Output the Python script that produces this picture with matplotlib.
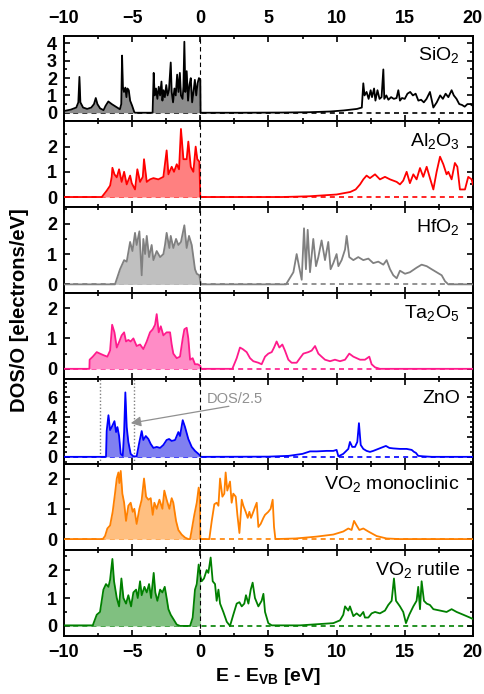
import numpy as np
import matplotlib
matplotlib.use('Agg')
import matplotlib.pyplot as plt
from matplotlib.ticker import MultipleLocator, FixedLocator

plt.rcParams['font.family'] = ['Liberation Sans', 'DejaVu Sans']
plt.rcParams['mathtext.default'] = 'regular'

# ---- read-off DOS data (E - E_VB [eV], DOS/O [electrons/eV]) ----
E_sio2 = [-10.0, -9.5, -9.1, -8.95, -8.87, -8.8, -8.6, -8.3, -8.0, -7.8, -7.67, -7.55, -7.35, -7.1,
          -6.95, -6.75, -6.5, -6.2, -5.9, -5.8, -5.74, -5.68, -5.6, -5.5, -5.42, -5.35, -5.25, -5.15,
          -5.0, -4.85, -4.79, -3.5, -3.42, -3.35, -3.25, -3.15, -3.05, -2.95, -2.85, -2.78, -2.7, -2.6,
          -2.5, -2.4, -2.3, -2.17, -2.1, -2.0, -1.9, -1.8, -1.7, -1.6, -1.5, -1.42, -1.3, -1.24, -1.17,
          -1.1, -1.0, -0.9, -0.8, -0.7, -0.6, -0.5, -0.4, -0.3, -0.2, -0.1, 0.0, 0.02,
          3.0, 6.0, 8.0, 9.5, 10.5, 11.5, 11.85, 11.96, 12.05, 12.2, 12.35, 12.5, 12.6, 12.75, 12.85,
          13.0, 13.15, 13.3, 13.43, 13.5, 13.65, 13.8, 14.0, 14.2, 14.4, 14.53, 14.65, 14.8, 15.0, 15.2,
          15.4, 15.6, 15.8, 16.0, 16.2, 16.4, 16.6, 16.85, 17.1, 17.35, 17.6, 17.8, 18.0, 18.2, 18.44,
          18.6, 18.8, 19.0, 19.2, 19.4, 19.6, 19.8, 20.0]
D_sio2 = [0.1, 0.18, 0.3, 0.6, 2.07, 0.6, 0.3, 0.22, 0.3, 0.5, 0.85, 0.5, 0.25, 0.15,
          0.4, 0.65, 0.5, 0.35, 0.2, 0.5, 3.3, 1.5, 1.2, 1.45, 0.9, 1.4, 1.3, 0.7,
          0.4, 0.05, 0.0, 0.0, 2.3, 1.0, 1.4, 0.8, 1.5, 1.0, 1.8, 0.7, 1.3, 0.9,
          1.6, 1.0, 1.3, 2.9, 1.2, 0.6, 1.4, 1.0, 2.2, 1.2, 2.3, 1.0, 0.8, 1.5, 4.1,
          1.2, 2.4, 0.7, 1.6, 2.0, 0.6, 1.2, 1.9, 1.0, 1.7, 2.0, 1.9, 0.0,
          0.0, 0.01, 0.03, 0.07, 0.13, 0.22, 0.3, 1.7, 1.0, 1.2, 0.8, 1.3, 0.9, 1.4, 0.7,
          1.3, 0.8, 0.9, 2.5, 0.8, 1.0, 0.75, 0.9, 0.8, 0.85, 1.3, 0.7, 0.85, 0.8, 1.1,
          1.2, 1.0, 1.1, 0.7, 0.75, 0.6, 0.8, 1.2, 0.3, 0.6, 1.0, 0.8, 1.1, 0.9, 1.3,
          1.0, 0.8, 0.5, 0.45, 0.35, 0.5, 0.5, 0.4]

E_al2o3 = [-10.0, -7.23, -6.87, -6.62, -6.5, -6.45, -6.3, -6.13, -5.96, -5.77, -5.59, -5.4, -5.15,
           -5.03, -4.79, -4.62, -4.42, -4.22, -4.13, -3.93, -3.69, -3.44, -3.08, -2.71, -2.47, -2.34,
           -2.1, -1.93, -1.73, -1.56, -1.42, -1.24, -1.0, -0.88, -0.7, -0.51, -0.34, -0.22, -0.07, 0.0,
           6.0, 8.0, 10.0, 11.0, 11.4, 11.72, 11.96, 12.2, 12.45, 12.82, 13.18, 13.55, 13.92, 14.41,
           14.65, 14.89, 15.14, 15.38, 15.63, 15.87, 16.12, 16.36, 16.61, 16.85, 17.1, 17.34, 17.59,
           17.83, 18.07, 18.2, 18.44, 18.68, 18.86, 19.05, 19.42, 19.66, 19.91, 20.0]
D_al2o3 = [0.0, 0.0, 0.25, 0.45, 0.8, 1.16, 0.9, 0.78, 1.1, 0.6, 1.0, 0.5, 0.85,
           0.55, 0.3, 1.1, 0.6, 0.8, 1.5, 0.6, 0.7, 0.75, 0.7, 0.8, 1.85, 0.9,
           1.2, 1.0, 1.3, 1.1, 2.7, 1.5, 1.5, 2.2, 1.2, 1.0, 2.0, 1.5, 1.4, 0.0,
           0.0, 0.03, 0.1, 0.2, 0.3, 0.5, 0.7, 0.85, 0.75, 0.9, 0.7, 0.8, 0.7, 0.6,
           0.5, 0.65, 1.0, 0.55, 0.9, 0.7, 1.15, 0.8, 1.2, 0.75, 0.3, 1.0, 1.6,
           1.3, 0.9, 1.0, 0.7, 1.35, 1.2, 0.3, 0.3, 0.8, 0.7, 0.5]

E_hfo2 = [-10.0, -6.26, -5.89, -5.59, -5.4, -5.15, -4.98, -4.79, -4.67, -4.47, -4.3, -4.18, -4.05,
          -3.93, -3.76, -3.57, -3.44, -3.2, -2.95, -2.71, -2.59, -2.47, -2.27, -2.17, -1.98, -1.78,
          -1.61, -1.42, -1.17, -1.0, -0.83, -0.63, -0.39, -0.26, -0.07, 0.0,
          0.05, 6.29, 6.83, 7.07, 7.24, 7.44, 7.61, 7.75, 7.88, 8.05, 8.29, 8.49, 8.66, 8.9, 9.15,
          9.39, 9.56, 9.76, 10.0, 10.13, 10.37, 10.62, 10.74, 10.93, 11.23, 11.59, 11.96, 12.33,
          12.69, 13.06, 13.43, 13.67, 13.92, 14.16, 14.41, 14.65, 15.02, 15.38, 15.87, 16.24,
          16.61, 16.97, 17.34, 17.71, 17.96, 18.2, 20.0]
D_hfo2 = [0.0, 0.0, 0.5, 0.8, 0.75, 1.4, 1.1, 1.7, 1.3, 1.75, 0.3, 1.5, 1.0,
          1.6, 0.9, 1.3, 0.8, 1.1, 0.9, 1.0, 1.3, 1.7, 1.2, 1.6, 1.2, 1.5,
          1.3, 1.4, 1.95, 1.2, 1.6, 1.3, 0.5, 0.35, 0.3, 0.1,
          0.0, 0.0, 0.4, 1.0, 0.6, 0.15, 1.85, 0.5, 1.8, 0.4, 1.5, 0.6, 0.9, 1.45, 0.8,
          1.4, 0.5, 0.7, 1.0, 0.6, 0.8, 1.15, 1.6, 0.9, 0.8, 0.9, 0.8, 0.85,
          0.7, 0.75, 0.65, 0.8, 0.5, 0.3, 0.2, 0.45, 0.35, 0.4, 0.55, 0.65,
          0.6, 0.5, 0.4, 0.3, 0.1, 0.0, 0.0]

E_ta2o5 = [-10.0, -8.14, -8.12, -7.89, -7.6, -7.36, -7.11, -6.82, -6.62, -6.47, -6.3, -6.13, -5.94,
           -5.77, -5.59, -5.45, -5.28, -5.11, -4.91, -4.67, -4.42, -4.18, -3.93, -3.69, -3.49, -3.32,
           -3.2, -3.05, -2.9, -2.71, -2.47, -2.22, -2.1, -1.98, -1.73, -1.49, -1.29, -1.17, -1.0, -0.88,
           -0.75, -0.56, -0.39, -0.19, 0.0,
           0.05, 2.35, 2.67, 2.91, 3.11, 3.4, 3.65, 3.89, 4.26, 4.5, 4.75, 4.99, 5.24, 5.41, 5.6,
           5.8, 6.02, 6.21, 6.46, 6.7, 7.07, 7.31, 7.56, 7.93, 8.17, 8.42, 8.66, 8.9, 9.15, 9.52,
           9.88, 10.25, 10.62, 10.93, 11.23, 11.72, 12.08, 12.4, 12.57, 12.82, 13.18, 20.0]
D_ta2o5 = [0.0, 0.0, 0.3, 0.4, 0.55, 0.5, 0.45, 0.4, 0.6, 1.45, 1.2, 0.7, 0.9,
           1.1, 1.2, 0.9, 0.95, 0.9, 1.0, 0.75, 0.8, 0.65, 0.9, 1.2, 1.3, 1.45,
           1.8, 1.2, 1.4, 1.1, 1.2, 1.2, 0.8, 0.5, 0.35, 0.4, 1.0, 1.3, 1.35, 1.0,
           0.3, 0.35, 0.15, 0.15, 0.1,
           0.0, 0.0, 0.35, 0.7, 0.65, 0.55, 0.35, 0.25, 0.2, 0.15, 0.4, 0.5, 0.55, 0.7, 0.9,
           0.7, 0.8, 0.6, 0.3, 0.2, 0.2, 0.35, 0.5, 0.55, 0.6, 0.75, 0.5, 0.4, 0.3, 0.25,
           0.3, 0.25, 0.3, 0.5, 0.4, 0.3, 0.3, 0.4, 0.15, 0.05, 0.0, 0.0]

# ZnO: values between the dotted lines are shown as DOS/2.5
E_zno = [-10.0, -6.92, -6.87, -6.74, -6.62, -6.5, -6.3, -6.18, -6.08, -5.96, -5.84, -5.69, -5.59,
         -5.5, -5.4, -5.28, -5.11, -4.91, -4.67, -4.47, -4.3, -4.18, -4.0, -3.81, -3.64, -3.44, -3.2,
         -2.95, -2.71, -2.47, -2.29, -2.1, -1.85, -1.61, -1.49, -1.29, -1.12, -0.88, -0.63, -0.39,
         -0.14, 0.0,
         0.05, 5.0, 6.5, 7.5, 8.05, 8.54, 9.27, 9.76, 10.0, 10.13, 10.49, 10.86, 10.98, 11.15,
         11.35, 11.52, 11.64, 11.77, 11.96, 12.2, 12.45, 12.69, 13.06, 13.43, 13.62, 13.87, 14.16,
         14.65, 15.14, 15.51, 15.68, 15.82, 15.99, 16.36, 17.0, 20.0]
D_zno = [0.0, 0.0, 2.6, 4.2, 2.7, 3.0, 3.6, 2.5, 3.0, 2.1, 0.3, 0.1, 2.5,
         6.5, 3.0, 1.5, 0.3, 0.05, 0.05, 1.5, 2.6, 1.7, 2.1, 1.8, 1.3, 0.9, 1.0,
         0.9, 1.2, 1.7, 1.8, 1.6, 1.7, 2.5, 2.1, 3.7, 3.0, 1.8, 1.0, 0.6,
         0.3, 0.1,
         0.0, 0.02, 0.1, 0.3, 0.55, 0.55, 0.6, 0.6, 0.7, 0.05, 0.3, 0.8, 1.5, 1.0,
         1.0, 1.5, 3.4, 1.2, 0.8, 0.6, 0.5, 0.6, 0.8, 1.0, 1.1, 0.9, 0.85,
         0.8, 0.8, 0.7, 0.5, 0.4, 0.1, 0.05, 0.0, 0.0]
zno_scaled_range = [-7.36, -4.84]

E_vo2m = [-10.0, -7.16, -6.99, -6.82, -6.62, -6.43, -6.26, -6.13, -6.01, -5.94, -5.84, -5.72, -5.59,
          -5.45, -5.28, -5.11, -4.96, -4.84, -4.67, -4.47, -4.3, -4.13, -3.98, -3.81, -3.64, -3.49,
          -3.37, -3.2, -3.0, -2.78, -2.64, -2.47, -2.27, -2.1, -1.98, -1.78, -1.61, -1.37, -1.12,
          -0.88, -0.75, -0.63, -0.44, -0.26, -0.12, -0.04, 0.0,
          0.66, 0.84, 1.03, 1.2, 1.33, 1.45, 1.62, 1.76, 1.86, 1.98, 2.18, 2.3, 2.42, 2.6, 2.72,
          2.87, 3.04, 3.16, 3.33, 3.48, 3.6, 3.72, 3.89, 4.01, 4.14, 4.26, 4.43, 4.63, 4.75, 4.99,
          5.16, 5.31, 5.41, 5.51, 7.0, 8.5, 9.76, 10.49, 10.86, 11.1, 11.28, 11.47, 11.67, 11.96,
          12.33, 12.94, 13.67, 14.65, 20.0]
D_vo2m = [0.0, 0.0, 0.1, 0.35, 0.45, 0.9, 1.5, 2.0, 2.2, 1.85, 2.25, 1.5, 1.2,
          0.6, 1.1, 1.2, 0.9, 1.0, 0.5, 1.0, 1.3, 2.0, 1.4, 1.3, 1.35, 0.8,
          1.2, 1.0, 1.3, 1.0, 1.6, 1.3, 1.0, 1.35, 1.2, 0.6, 0.3, 0.15, 0.05,
          0.0, 0.0, 0.3, 0.8, 1.2, 1.7, 1.5, 0.0,
          0.0, 0.6, 1.15, 1.2, 1.1, 2.0, 1.4, 1.5, 2.2, 1.6, 1.9, 1.2, 1.5, 1.4, 0.8,
          0.2, 1.3, 1.1, 0.9, 0.7, 0.9, 0.7, 0.9, 1.05, 1.2, 0.4, 0.5, 0.7, 0.8, 0.9,
          1.0, 1.3, 0.4, 0.0, 0.02, 0.08, 0.15, 0.25, 0.35, 0.3, 0.6, 0.45, 0.3, 0.35,
          0.25, 0.1, 0.02, 0.0, 0.0]

E_vo2r = [-10.0, -7.89, -7.6, -7.36, -7.11, -6.92, -6.74, -6.62, -6.45, -6.33, -6.13, -5.96, -5.79,
          -5.64, -5.45, -5.28, -5.08, -4.91, -4.71, -4.59, -4.42, -4.3, -4.1, -3.93, -3.76, -3.61,
          -3.42, -3.3, -3.15, -2.95, -2.78, -2.61, -2.47, -2.34, -2.17, -1.98, -1.73, -1.49, -0.75,
          -0.56, -0.39, -0.26, -0.12, 0.0,
          0.1, 0.27, 0.47, 0.59, 0.76, 0.91, 1.08, 1.2, 1.33, 1.45, 1.69, 1.94, 2.18, 2.42, 2.67,
          2.87, 3.04, 3.23, 3.35, 3.53, 3.7, 3.84, 4.01, 4.26, 4.5, 4.63, 4.75, 4.99, 5.24, 7.31,
          8.54, 9.76, 10.25, 10.49, 10.62, 10.86, 10.98, 11.23, 11.47, 11.72, 11.96, 12.08, 12.33,
          12.57, 12.82, 13.18, 13.55, 13.79, 14.04, 14.21, 14.36, 14.65, 14.89, 15.09, 15.33, 15.63,
          15.87, 15.99, 16.12, 16.24, 16.41, 16.61, 16.85, 17.1, 17.59, 18.07, 18.44, 18.81, 19.3,
          19.78, 20.0]
D_vo2r = [0.02, 0.02, 0.4, 0.5, 1.3, 1.5, 1.4, 1.65, 2.4, 1.6, 1.0, 0.7, 1.7,
          1.0, 0.8, 1.1, 0.7, 1.2, 1.3, 1.0, 1.6, 1.1, 1.4, 1.2, 1.5, 1.0,
          1.9, 1.2, 0.9, 1.3, 1.2, 1.4, 1.0, 0.6, 0.4, 0.25, 0.05, 0.0, 0.0,
          0.3, 1.3, 1.5, 2.2, 1.8,
          1.6, 1.7, 2.0, 1.9, 2.45, 1.6, 1.5, 0.9, 1.3, 0.8, 0.5, 0.15, 0.0, 0.4, 0.8,
          0.85, 0.7, 0.8, 1.1, 0.8, 1.3, 1.55, 1.0, 0.7, 0.9, 1.15, 0.5, 0.1, 0.02, 0.02,
          0.06, 0.1, 0.2, 0.4, 0.7, 0.55, 0.7, 0.35, 0.45, 0.35, 0.5, 0.3, 0.3,
          0.45, 0.5, 0.45, 0.55, 0.75, 0.9, 1.7, 0.9, 0.7, 0.5, 0.1, 0.4, 0.7,
          0.9, 1.4, 0.6, 1.6, 0.9, 0.8, 0.75, 0.6, 0.55, 0.5, 0.6, 0.5, 0.4,
          0.3, 0.25]

yticks_small = [0, 1, 2]
panels = [
    ('SiO$_2$', E_sio2, D_sio2, 'black', '#8c8c8c', (-0.5, 4.45), [0, 1, 2, 3, 4], 0.5),
    ('Al$_2$O$_3$', E_al2o3, D_al2o3, '#ff0000', '#ff8080', (-0.4, 3.0), yticks_small, 0.5),
    ('HfO$_2$', E_hfo2, D_hfo2, '#808080', '#c0c0c0', (-0.28, 2.55), yticks_small, 0.5),
    ('Ta$_2$O$_5$', E_ta2o5, D_ta2o5, '#ff1a8c', '#ff8cc6', (-0.32, 2.5), yticks_small, 0.5),
    ('ZnO', E_zno, D_zno, '#0000ff', '#8080f0', (-0.75, 7.9), [0, 2, 4, 6], 0.5),
    ('VO$_2$ monoclinic', E_vo2m, D_vo2m, '#ff8000', '#ffbf80', (-0.36, 2.47), yticks_small, 0.5),
    ('VO$_2$ rutile', E_vo2r, D_vo2r, '#008000', '#80c080', (-0.35, 2.72), yticks_small, 0.5),
]

fig, axes = plt.subplots(7, 1, sharex=True, figsize=(4.85, 6.94), dpi=100)
fig.subplots_adjust(left=0.132, right=0.975, bottom=0.084, top=0.9486, hspace=0)

for ax, (name, E, D, lc, fc, ylim, yt, ymin) in zip(axes, panels):
    E = np.array(E)
    D = np.array(D)
    ax.axhline(0, color=lc, lw=1.2, ls=(0, (3, 2.5)), zorder=1)
    ax.axvline(0, color='black', lw=0.8, ls=(0, (4, 3)), zorder=4)
    ax.fill_between(E, 0, D, where=E <= 0, color=fc, lw=0, zorder=2)
    ax.plot(E, D, color=lc, lw=1.3, zorder=3)
    ax.set_xlim(-10, 20)
    ax.set_ylim(*ylim)
    ax.yaxis.set_major_locator(FixedLocator(yt))
    ax.yaxis.set_minor_locator(MultipleLocator(ymin))
    ax.xaxis.set_major_locator(MultipleLocator(5))
    ax.xaxis.set_minor_locator(MultipleLocator(2.5))
    ax.tick_params(which='both', direction='in', top=True, right=True, width=1.2,
                   labelsize=13, labelbottom=False)
    ax.tick_params(axis='y', pad=5)
    ax.tick_params(axis='x', pad=6)
    ax.tick_params(which='major', length=4.5)
    ax.tick_params(which='minor', length=2.5)
    for lab in ax.get_yticklabels():
        lab.set_fontweight('bold')
    for s in ax.spines.values():
        s.set_linewidth(1.4)
    ax.text(0.968, 0.77, name, transform=ax.transAxes, ha='right', va='center', fontsize=14)

axes[0].tick_params(labeltop=True)
axes[-1].tick_params(labelbottom=True)
for ax in (axes[0], axes[-1]):
    for lab in ax.get_xticklabels():
        lab.set_fontweight('bold')

# ZnO panel extras
zn = axes[4]
for xv in zno_scaled_range:
    zn.axvline(xv, color='#808080', lw=1.0, ls=(0, (1, 1.5)), zorder=1)
zn.annotate('', xy=(-5.3, 3.35), xytext=(2.3, 5.15),
            arrowprops=dict(arrowstyle='-|>,head_length=0.6,head_width=0.3',
                            color='#909090', lw=0.9), zorder=5)
zn.text(0.5, 5.85, 'DOS/2.5', color='#909090', fontsize=10.5, ha='left', va='center')

fig.text(0.041, 0.553, 'DOS/O [electrons/eV]', rotation=90, ha='center', va='center',
         fontsize=14.5, fontweight='bold')
fig.text(0.553, 0.0245, 'E - E$_{VB}$ [eV]', ha='center', va='center',
         fontsize=14, fontweight='bold')

fig.savefig('out.png', dpi=100)
